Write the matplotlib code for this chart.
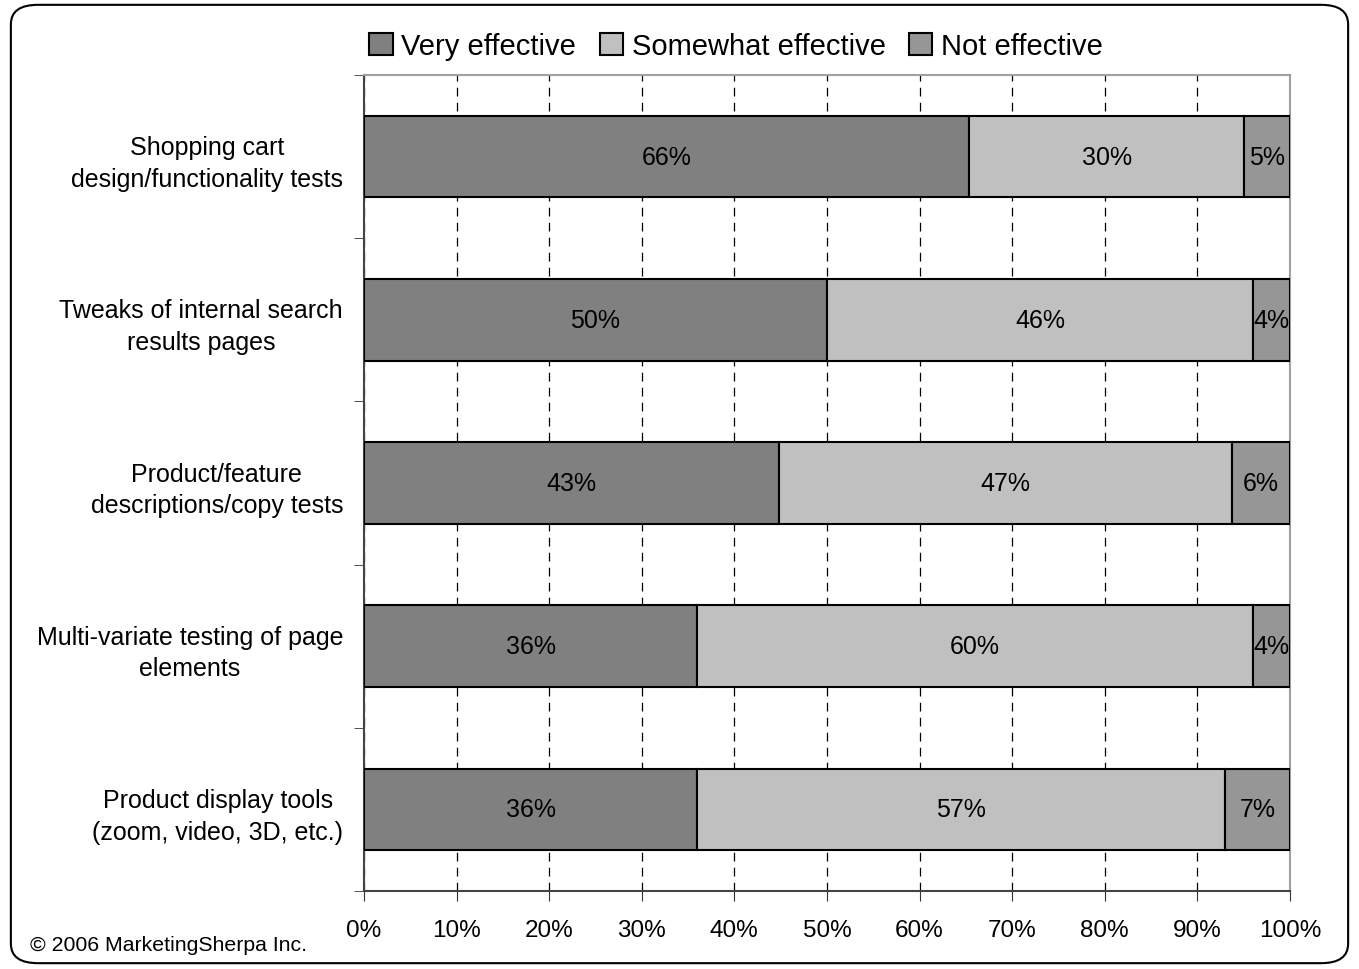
import numpy as np
import matplotlib.pyplot as plt
from matplotlib.patches import FancyBboxPatch

plt.rcParams['font.family'] = ['Liberation Sans', 'DejaVu Sans']

# data (percent as labelled; bars are normalised to 100%)
categories = ['Shopping cart\ndesign/functionality tests',
              'Tweaks of internal search\nresults pages',
              'Product/feature\ndescriptions/copy tests',
              'Multi-variate testing of page\nelements',
              'Product display tools\n(zoom, video, 3D, etc.)']
very = [66, 50, 43, 36, 36]
somewhat = [30, 46, 47, 60, 57]
not_eff = [5, 4, 6, 4, 7]
series_names = ['Very effective', 'Somewhat effective', 'Not effective']
colors = ['#808080', '#C0C0C0', '#969696']

vals = np.array([very, somewhat, not_eff], dtype=float)
shares = vals / vals.sum(axis=0) * 100

fig = plt.figure(figsize=(13.59, 9.70), dpi=100)
ax = fig.add_axes([0.2678, 0.0804, 0.6814, 0.8412])

y = np.arange(len(categories))
left = np.zeros(len(categories))
for i in range(3):
    ax.barh(y, shares[i], left=left, height=0.5, color=colors[i],
            edgecolor='black', linewidth=1.5, label=series_names[i], zorder=3)
    for j in range(len(categories)):
        ax.text(left[j] + shares[i][j] / 2, y[j], f'{int(vals[i][j])}%',
                ha='center', va='center', fontsize=18, zorder=4)
    left += shares[i]

ax.set_xlim(0, 100)
ax.set_ylim(len(categories) - 0.5, -0.5)
ax.set_xticks(np.arange(0, 101, 10))
ax.set_xticklabels([f'{v}%' for v in range(0, 101, 10)], fontsize=17.5)
ax.tick_params(axis='x', direction='out', length=7, pad=13, color='#333333')

ax.set_yticks(y)
ax.set_yticklabels(categories, fontsize=18, multialignment='center', linespacing=1.4)
ax.tick_params(axis='y', which='major', length=0, pad=15)
ax.set_yticks(np.arange(-0.5, len(categories), 1), minor=True)
ax.tick_params(axis='y', which='minor', direction='out', length=7, color='#333333')

ax.xaxis.grid(True, linestyle=(0, (7, 5)), color='black', linewidth=0.9, zorder=0)
ax.set_axisbelow(True)

ax.spines['left'].set_color('#444444')
ax.spines['bottom'].set_color('#444444')
ax.spines['top'].set_color('#A0A0A0')
ax.spines['right'].set_color('#A0A0A0')
for s in ax.spines.values():
    s.set_linewidth(1.5)

ax.legend(loc='lower center', bbox_to_anchor=(0.402, 1.0), ncol=3, frameon=False,
          fontsize=21, handlelength=0.8, handleheight=0.8, handletextpad=0.3,
          columnspacing=0.8, borderaxespad=0.1)

fig.text(0.022, 0.02, '\u00a9 2006 MarketingSherpa Inc.', fontsize=15.3)

border = FancyBboxPatch((0.008, 0.006), 0.984, 0.988, boxstyle='round,pad=0,rounding_size=0.02',
                        transform=fig.transFigure, fill=False, edgecolor='black', linewidth=1.5)
fig.patches.append(border)

fig.savefig('out.png', dpi=100)
